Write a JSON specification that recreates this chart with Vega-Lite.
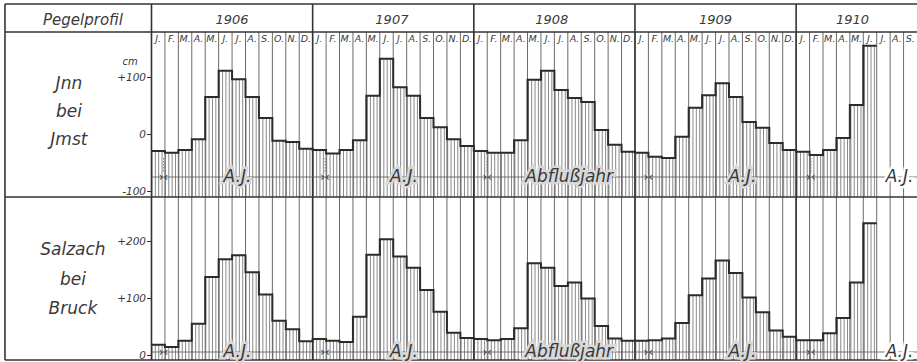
{
  "$schema": "https://vega.github.io/schema/vega-lite/v6.json",
  "width": 917,
  "height": 362,
  "autosize": {"type": "none"},
  "padding": 0,
  "background": "white",
  "config": {
    "view": {"stroke": null},
    "text": {"font": "'Liberation Sans Narrow', 'DejaVu Sans', sans-serif", "fontStyle": "italic", "color": "#3a3a3a"}
  },
  "datasets": {
    "pegel": [
      {"i": 0, "jahr": 1906, "inn": -30, "salzach": 18},
      {"i": 1, "jahr": 1906, "inn": -33, "salzach": 14},
      {"i": 2, "jahr": 1906, "inn": -28, "salzach": 25},
      {"i": 3, "jahr": 1906, "inn": -9, "salzach": 55},
      {"i": 4, "jahr": 1906, "inn": 65, "salzach": 137},
      {"i": 5, "jahr": 1906, "inn": 111, "salzach": 168},
      {"i": 6, "jahr": 1906, "inn": 96, "salzach": 175},
      {"i": 7, "jahr": 1906, "inn": 65, "salzach": 145},
      {"i": 8, "jahr": 1906, "inn": 28, "salzach": 106},
      {"i": 9, "jahr": 1906, "inn": -12, "salzach": 60},
      {"i": 10, "jahr": 1906, "inn": -14, "salzach": 45},
      {"i": 11, "jahr": 1906, "inn": -26, "salzach": 24},
      {"i": 12, "jahr": 1907, "inn": -28, "salzach": 28},
      {"i": 13, "jahr": 1907, "inn": -34, "salzach": 25},
      {"i": 14, "jahr": 1907, "inn": -28, "salzach": 23},
      {"i": 15, "jahr": 1907, "inn": -11, "salzach": 67},
      {"i": 16, "jahr": 1907, "inn": 67, "salzach": 176},
      {"i": 17, "jahr": 1907, "inn": 132, "salzach": 203},
      {"i": 18, "jahr": 1907, "inn": 82, "salzach": 173},
      {"i": 19, "jahr": 1907, "inn": 67, "salzach": 153},
      {"i": 20, "jahr": 1907, "inn": 28, "salzach": 114},
      {"i": 21, "jahr": 1907, "inn": 12, "salzach": 76},
      {"i": 22, "jahr": 1907, "inn": -9, "salzach": 39},
      {"i": 23, "jahr": 1907, "inn": -21, "salzach": 30},
      {"i": 24, "jahr": 1908, "inn": -30, "salzach": 28},
      {"i": 25, "jahr": 1908, "inn": -33, "salzach": 26},
      {"i": 26, "jahr": 1908, "inn": -33, "salzach": 28},
      {"i": 27, "jahr": 1908, "inn": -11, "salzach": 47},
      {"i": 28, "jahr": 1908, "inn": 95, "salzach": 161},
      {"i": 29, "jahr": 1908, "inn": 111, "salzach": 153},
      {"i": 30, "jahr": 1908, "inn": 77, "salzach": 121},
      {"i": 31, "jahr": 1908, "inn": 63, "salzach": 127},
      {"i": 32, "jahr": 1908, "inn": 56, "salzach": 99},
      {"i": 33, "jahr": 1908, "inn": 7, "salzach": 51},
      {"i": 34, "jahr": 1908, "inn": -19, "salzach": 29},
      {"i": 35, "jahr": 1908, "inn": -31, "salzach": 25},
      {"i": 36, "jahr": 1909, "inn": -33, "salzach": 25},
      {"i": 37, "jahr": 1909, "inn": -40, "salzach": 26},
      {"i": 38, "jahr": 1909, "inn": -42, "salzach": 29},
      {"i": 39, "jahr": 1909, "inn": -5, "salzach": 56},
      {"i": 40, "jahr": 1909, "inn": 46, "salzach": 105},
      {"i": 41, "jahr": 1909, "inn": 68, "salzach": 134},
      {"i": 42, "jahr": 1909, "inn": 89, "salzach": 166},
      {"i": 43, "jahr": 1909, "inn": 65, "salzach": 144},
      {"i": 44, "jahr": 1909, "inn": 21, "salzach": 101},
      {"i": 45, "jahr": 1909, "inn": 11, "salzach": 75},
      {"i": 46, "jahr": 1909, "inn": -16, "salzach": 43},
      {"i": 47, "jahr": 1909, "inn": -28, "salzach": 32},
      {"i": 48, "jahr": 1910, "inn": -31, "salzach": 26},
      {"i": 49, "jahr": 1910, "inn": -37, "salzach": 26},
      {"i": 50, "jahr": 1910, "inn": -28, "salzach": 38},
      {"i": 51, "jahr": 1910, "inn": -7, "salzach": 65},
      {"i": 52, "jahr": 1910, "inn": 51, "salzach": 127},
      {"i": 53, "jahr": 1910, "inn": 155, "salzach": 231},
      {"i": 54, "jahr": 1910, "inn": 155, "salzach": 231}
    ],
    "monate": [
      {"i": 0, "m": "J."}, {"i": 1, "m": "F."}, {"i": 2, "m": "M."}, {"i": 3, "m": "A."}, {"i": 4, "m": "M."}, {"i": 5, "m": "J."},
      {"i": 6, "m": "J."}, {"i": 7, "m": "A."}, {"i": 8, "m": "S."}, {"i": 9, "m": "O."}, {"i": 10, "m": "N."}, {"i": 11, "m": "D."},
      {"i": 12, "m": "J."}, {"i": 13, "m": "F."}, {"i": 14, "m": "M."}, {"i": 15, "m": "A."}, {"i": 16, "m": "M."}, {"i": 17, "m": "J."},
      {"i": 18, "m": "J."}, {"i": 19, "m": "A."}, {"i": 20, "m": "S."}, {"i": 21, "m": "O."}, {"i": 22, "m": "N."}, {"i": 23, "m": "D."},
      {"i": 24, "m": "J."}, {"i": 25, "m": "F."}, {"i": 26, "m": "M."}, {"i": 27, "m": "A."}, {"i": 28, "m": "M."}, {"i": 29, "m": "J."},
      {"i": 30, "m": "J."}, {"i": 31, "m": "A."}, {"i": 32, "m": "S."}, {"i": 33, "m": "O."}, {"i": 34, "m": "N."}, {"i": 35, "m": "D."},
      {"i": 36, "m": "J."}, {"i": 37, "m": "F."}, {"i": 38, "m": "M."}, {"i": 39, "m": "A."}, {"i": 40, "m": "M."}, {"i": 41, "m": "J."},
      {"i": 42, "m": "J."}, {"i": 43, "m": "A."}, {"i": 44, "m": "S."}, {"i": 45, "m": "O."}, {"i": 46, "m": "N."}, {"i": 47, "m": "D."},
      {"i": 48, "m": "J."}, {"i": 49, "m": "F."}, {"i": 50, "m": "M."}, {"i": 51, "m": "A."}, {"i": 52, "m": "M."}, {"i": 53, "m": "J."},
      {"i": 54, "m": "J."}, {"i": 55, "m": "A."}, {"i": 56, "m": "S."}
    ],
    "jahre": [
      {"jahr": "1906", "beginn": 0, "mitte": 6},
      {"jahr": "1907", "beginn": 12, "mitte": 17.9},
      {"jahr": "1908", "beginn": 24, "mitte": 29.8},
      {"jahr": "1909", "beginn": 36, "mitte": 42},
      {"jahr": "1910", "beginn": 48, "mitte": 52.2}
    ],
    "abflussjahr": [
      {"beginn": 0.9, "mitte": 6.4, "text": "A.J."},
      {"beginn": 12.92, "mitte": 18.8, "text": "A.J."},
      {"beginn": 25.0, "mitte": 31.1, "text": "Abflußjahr"},
      {"beginn": 37.0, "mitte": 44.0, "text": "A.J."},
      {"beginn": 49.1, "mitte": 55.7, "text": "A.J."}
    ]
  },
  "resolve": {"scale": {"y": "independent"}},
  "layer": [
    {
      "data": {"values": [{}]},
      "mark": {"type": "rule", "strokeWidth": 165, "strokeDash": [1, 2.36], "color": "#8a8a8a"},
      "encoding": {
        "x": {"datum": 0, "type": "quantitative", "scale": {"domain": [-11.28, 57], "nice": false, "zero": false}, "axis": null},
        "x2": {"datum": 54},
        "y": {"datum": 34.21, "type": "quantitative", "scale": {"domain": [-400, 235.09], "nice": false, "zero": false}, "axis": null}
      }
    },
    {
      "data": {"values": [{}]},
      "mark": {"type": "rule", "strokeWidth": 163, "strokeDash": [1, 2.36], "color": "#8a8a8a"},
      "encoding": {
        "x": {"datum": 0, "type": "quantitative", "scale": {"domain": [-11.28, 57], "nice": false, "zero": false}, "axis": null},
        "x2": {"datum": 54},
        "y": {"datum": 134.21, "type": "quantitative", "scale": {"domain": [-12.28, 622.81], "nice": false, "zero": false}, "axis": null}
      }
    },
    {
      "data": {"name": "pegel"},
      "mark": {"type": "area", "interpolate": "step-after", "color": "white", "opacity": 1},
      "encoding": {
        "x": {"field": "i", "type": "quantitative", "scale": {"domain": [-11.28, 57], "nice": false, "zero": false}, "axis": null},
        "y": {"field": "inn", "type": "quantitative", "scale": {"domain": [-400, 235.09], "nice": false, "zero": false}, "axis": null},
        "y2": {"datum": 178.95}
      }
    },
    {
      "data": {"name": "pegel"},
      "mark": {"type": "area", "interpolate": "step-after", "color": "white", "opacity": 1},
      "encoding": {
        "x": {"field": "i", "type": "quantitative", "scale": {"domain": [-11.28, 57], "nice": false, "zero": false}, "axis": null},
        "y": {"field": "salzach", "type": "quantitative", "scale": {"domain": [-12.28, 622.81], "nice": false, "zero": false}, "axis": null},
        "y2": {"datum": 277.19}
      }
    },
    {
      "data": {"name": "monate"},
      "mark": {"type": "rule", "color": "#5a5a5a", "strokeWidth": 0.9},
      "encoding": {
        "x": {"field": "i", "type": "quantitative", "scale": {"domain": [-11.28, 57], "nice": false, "zero": false}, "axis": null},
        "y": {"datum": 178.95, "type": "quantitative", "scale": {"domain": [-400, 235.09], "nice": false, "zero": false}, "axis": null},
        "y2": {"datum": -396.49}
      }
    },
    {
      "data": {"name": "jahre"},
      "mark": {"type": "rule", "color": "#333", "strokeWidth": 1.6},
      "encoding": {
        "x": {"field": "beginn", "type": "quantitative", "scale": {"domain": [-11.28, 57], "nice": false, "zero": false}, "axis": null},
        "y": {"datum": 228.07, "type": "quantitative", "scale": {"domain": [-400, 235.09], "nice": false, "zero": false}, "axis": null},
        "y2": {"datum": -396.49}
      }
    },
    {
      "data": {"values": [{}]},
      "mark": {"type": "rule", "color": "#333", "strokeWidth": 1.6},
      "encoding": {
        "x": {"datum": -10.91, "type": "quantitative", "scale": {"domain": [-11.28, 57], "nice": false, "zero": false}, "axis": null},
        "y": {"datum": 228.07, "type": "quantitative", "scale": {"domain": [-400, 235.09], "nice": false, "zero": false}, "axis": null},
        "y2": {"datum": -396.49}
      }
    },
    {
      "data": {"values": [{}]},
      "mark": {"type": "rule", "color": "#333", "strokeWidth": 1.6},
      "encoding": {
        "x": {"datum": -10.91, "type": "quantitative", "scale": {"domain": [-11.28, 57], "nice": false, "zero": false}, "axis": null},
        "x2": {"datum": 57},
        "y": {"datum": 228.07, "type": "quantitative", "scale": {"domain": [-400, 235.09], "nice": false, "zero": false}, "axis": null}
      }
    },
    {
      "data": {"values": [{}]},
      "mark": {"type": "rule", "color": "#333", "strokeWidth": 1.4},
      "encoding": {
        "x": {"datum": -10.91, "type": "quantitative", "scale": {"domain": [-11.28, 57], "nice": false, "zero": false}, "axis": null},
        "x2": {"datum": 57},
        "y": {"datum": 178.95, "type": "quantitative", "scale": {"domain": [-400, 235.09], "nice": false, "zero": false}, "axis": null}
      }
    },
    {
      "data": {"values": [{}]},
      "mark": {"type": "rule", "color": "#333", "strokeWidth": 1.6},
      "encoding": {
        "x": {"datum": -10.91, "type": "quantitative", "scale": {"domain": [-11.28, 57], "nice": false, "zero": false}, "axis": null},
        "x2": {"datum": 57},
        "y": {"datum": -110.53, "type": "quantitative", "scale": {"domain": [-400, 235.09], "nice": false, "zero": false}, "axis": null}
      }
    },
    {
      "data": {"values": [{}]},
      "mark": {"type": "rule", "color": "#333", "strokeWidth": 1.6},
      "encoding": {
        "x": {"datum": -10.91, "type": "quantitative", "scale": {"domain": [-11.28, 57], "nice": false, "zero": false}, "axis": null},
        "x2": {"datum": 57},
        "y": {"datum": -8.77, "type": "quantitative", "scale": {"domain": [-12.28, 622.81], "nice": false, "zero": false}, "axis": null}
      }
    },
    {
      "data": {"values": [{}]},
      "mark": {"type": "rule", "color": "#555", "strokeWidth": 0.8},
      "encoding": {
        "x": {"datum": 0, "type": "quantitative", "scale": {"domain": [-11.28, 57], "nice": false, "zero": false}, "axis": null},
        "x2": {"datum": 57},
        "y": {"datum": -75.44, "type": "quantitative", "scale": {"domain": [-400, 235.09], "nice": false, "zero": false}, "axis": null}
      }
    },
    {
      "data": {"values": [{}]},
      "mark": {"type": "rule", "color": "#555", "strokeWidth": 0.8},
      "encoding": {
        "x": {"datum": 0, "type": "quantitative", "scale": {"domain": [-11.28, 57], "nice": false, "zero": false}, "axis": null},
        "x2": {"datum": 57},
        "y": {"datum": 5.26, "type": "quantitative", "scale": {"domain": [-12.28, 622.81], "nice": false, "zero": false}, "axis": null}
      }
    },
    {
      "data": {"name": "abflussjahr"},
      "mark": {"type": "rule", "color": "#666", "strokeWidth": 0.8, "strokeDash": [1.5, 1.5]},
      "encoding": {
        "x": {"field": "beginn", "type": "quantitative", "scale": {"domain": [-11.28, 57], "nice": false, "zero": false}, "axis": null},
        "y": {"datum": -42.1, "type": "quantitative", "scale": {"domain": [-400, 235.09], "nice": false, "zero": false}, "axis": null},
        "y2": {"datum": -66.67}
      }
    },
    {
      "data": {"name": "pegel"},
      "mark": {"type": "line", "interpolate": "step-after", "color": "#2b2b2b", "strokeWidth": 2},
      "encoding": {
        "x": {"field": "i", "type": "quantitative", "scale": {"domain": [-11.28, 57], "nice": false, "zero": false}, "axis": null},
        "y": {"field": "inn", "type": "quantitative", "scale": {"domain": [-400, 235.09], "nice": false, "zero": false},
          "axis": {"orient": "left", "offset": -151.5, "values": [-100, 0, 100], "labelExpr": "datum.value > 0 ? '+' + datum.value : (datum.value < 0 ? '-' + (-datum.value) : '0')", "domain": false, "grid": false, "title": null, "ticks": true, "tickSize": 5, "tickColor": "#333", "labelColor": "#3a3a3a", "labelFont": "'Liberation Sans Narrow', 'DejaVu Sans', sans-serif", "labelFontStyle": "italic", "labelFontSize": 10.5, "labelPadding": 1}}
      }
    },
    {
      "data": {"name": "pegel"},
      "mark": {"type": "line", "interpolate": "step-after", "color": "#2b2b2b", "strokeWidth": 2},
      "encoding": {
        "x": {"field": "i", "type": "quantitative", "scale": {"domain": [-11.28, 57], "nice": false, "zero": false}, "axis": null},
        "y": {"field": "salzach", "type": "quantitative", "scale": {"domain": [-12.28, 622.81], "nice": false, "zero": false},
          "axis": {"orient": "left", "offset": -151.5, "values": [0, 100, 200], "labelExpr": "datum.value > 0 ? '+' + datum.value : '0'", "domain": false, "grid": false, "title": null, "ticks": true, "tickSize": 5, "tickColor": "#333", "labelColor": "#3a3a3a", "labelFont": "'Liberation Sans Narrow', 'DejaVu Sans', sans-serif", "labelFontStyle": "italic", "labelFontSize": 10.5, "labelPadding": 1}}
      }
    },
    {
      "data": {"name": "monate"},
      "mark": {"type": "text", "fontSize": 9.5, "dx": 6.7, "align": "center", "baseline": "middle"},
      "encoding": {
        "x": {"field": "i", "type": "quantitative", "scale": {"domain": [-11.28, 57], "nice": false, "zero": false}, "axis": null},
        "y": {"datum": 167.54, "type": "quantitative", "scale": {"domain": [-400, 235.09], "nice": false, "zero": false}, "axis": null},
        "text": {"field": "m"}
      }
    },
    {
      "data": {"name": "jahre"},
      "mark": {"type": "text", "fontSize": 13, "align": "center", "baseline": "middle"},
      "encoding": {
        "x": {"field": "mitte", "type": "quantitative", "scale": {"domain": [-11.28, 57], "nice": false, "zero": false}, "axis": null},
        "y": {"datum": 200.0, "type": "quantitative", "scale": {"domain": [-400, 235.09], "nice": false, "zero": false}, "axis": null},
        "text": {"field": "jahr"}
      }
    },
    {
      "data": {"values": [{"t": "Pegelprofil"}]},
      "mark": {"type": "text", "fontSize": 15, "align": "center", "baseline": "middle"},
      "encoding": {
        "x": {"datum": -5.1, "type": "quantitative", "scale": {"domain": [-11.28, 57], "nice": false, "zero": false}, "axis": null},
        "y": {"datum": 200.0, "type": "quantitative", "scale": {"domain": [-400, 235.09], "nice": false, "zero": false}, "axis": null},
        "text": {"field": "t"}
      }
    },
    {
      "data": {"values": [{"t": "cm"}]},
      "mark": {"type": "text", "fontSize": 10, "align": "center", "baseline": "middle"},
      "encoding": {
        "x": {"datum": -1.6, "type": "quantitative", "scale": {"domain": [-11.28, 57], "nice": false, "zero": false}, "axis": null},
        "y": {"datum": 126.32, "type": "quantitative", "scale": {"domain": [-400, 235.09], "nice": false, "zero": false}, "axis": null},
        "text": {"field": "t"}
      }
    },
    {
      "data": {"values": [{"t": ["Jnn", "bei", "Jmst"]}]},
      "mark": {"type": "text", "fontSize": 17, "lineHeight": 28, "align": "center", "baseline": "middle"},
      "encoding": {
        "x": {"datum": -6.15, "type": "quantitative", "scale": {"domain": [-11.28, 57], "nice": false, "zero": false}, "axis": null},
        "y": {"datum": 87.7, "type": "quantitative", "scale": {"domain": [-400, 235.09], "nice": false, "zero": false}, "axis": null},
        "text": {"field": "t"}
      }
    },
    {
      "data": {"values": [{"t": ["Salzach", "bei", "Bruck"]}]},
      "mark": {"type": "text", "fontSize": 17, "lineHeight": 29.5, "align": "center", "baseline": "middle"},
      "encoding": {
        "x": {"datum": -5.85, "type": "quantitative", "scale": {"domain": [-11.28, 57], "nice": false, "zero": false}, "axis": null},
        "y": {"datum": 184.2, "type": "quantitative", "scale": {"domain": [-12.28, 622.81], "nice": false, "zero": false}, "axis": null},
        "text": {"field": "t"}
      }
    },
    {
      "data": {"name": "abflussjahr"},
      "mark": {"type": "text", "fontSize": 12, "align": "center", "baseline": "middle", "fontStyle": "normal"},
      "encoding": {
        "x": {"field": "beginn", "type": "quantitative", "scale": {"domain": [-11.28, 57], "nice": false, "zero": false}, "axis": null},
        "y": {"datum": -75.44, "type": "quantitative", "scale": {"domain": [-400, 235.09], "nice": false, "zero": false}, "axis": null},
        "text": {"value": "›‹"}
      }
    },
    {
      "data": {"name": "abflussjahr"},
      "mark": {"type": "text", "fontSize": 12, "align": "center", "baseline": "middle", "fontStyle": "normal"},
      "encoding": {
        "x": {"field": "beginn", "type": "quantitative", "scale": {"domain": [-11.28, 57], "nice": false, "zero": false}, "axis": null},
        "y": {"datum": 5.26, "type": "quantitative", "scale": {"domain": [-12.28, 622.81], "nice": false, "zero": false}, "axis": null},
        "text": {"value": "›‹"}
      }
    },
    {
      "data": {"name": "abflussjahr"},
      "mark": {"type": "text", "fontSize": 17, "align": "center", "baseline": "middle", "strokeWidth": 5},
      "encoding": {
        "x": {"field": "mitte", "type": "quantitative", "scale": {"domain": [-11.28, 57], "nice": false, "zero": false}, "axis": null},
        "y": {"datum": -75.44, "type": "quantitative", "scale": {"domain": [-400, 235.09], "nice": false, "zero": false}, "axis": null},
        "text": {"field": "text"},
        "stroke": {"condition": {"test": "datum.mitte > 54", "value": "white"}, "value": "#d8d8d8"},
        "fill": {"condition": {"test": "datum.mitte > 54", "value": "white"}, "value": "#d8d8d8"}
      }
    },
    {
      "data": {"name": "abflussjahr"},
      "mark": {"type": "text", "fontSize": 17, "align": "center", "baseline": "middle"},
      "encoding": {
        "x": {"field": "mitte", "type": "quantitative", "scale": {"domain": [-11.28, 57], "nice": false, "zero": false}, "axis": null},
        "y": {"datum": -75.44, "type": "quantitative", "scale": {"domain": [-400, 235.09], "nice": false, "zero": false}, "axis": null},
        "text": {"field": "text"}
      }
    },
    {
      "data": {"name": "abflussjahr"},
      "mark": {"type": "text", "fontSize": 17, "align": "center", "baseline": "middle", "strokeWidth": 5},
      "encoding": {
        "x": {"field": "mitte", "type": "quantitative", "scale": {"domain": [-11.28, 57], "nice": false, "zero": false}, "axis": null},
        "y": {"datum": 5.26, "type": "quantitative", "scale": {"domain": [-12.28, 622.81], "nice": false, "zero": false}, "axis": null},
        "text": {"field": "text"},
        "stroke": {"condition": {"test": "datum.mitte > 54", "value": "white"}, "value": "#d8d8d8"},
        "fill": {"condition": {"test": "datum.mitte > 54", "value": "white"}, "value": "#d8d8d8"}
      }
    },
    {
      "data": {"name": "abflussjahr"},
      "mark": {"type": "text", "fontSize": 17, "align": "center", "baseline": "middle"},
      "encoding": {
        "x": {"field": "mitte", "type": "quantitative", "scale": {"domain": [-11.28, 57], "nice": false, "zero": false}, "axis": null},
        "y": {"datum": 5.26, "type": "quantitative", "scale": {"domain": [-12.28, 622.81], "nice": false, "zero": false}, "axis": null},
        "text": {"field": "text"}
      }
    }
  ]
}
